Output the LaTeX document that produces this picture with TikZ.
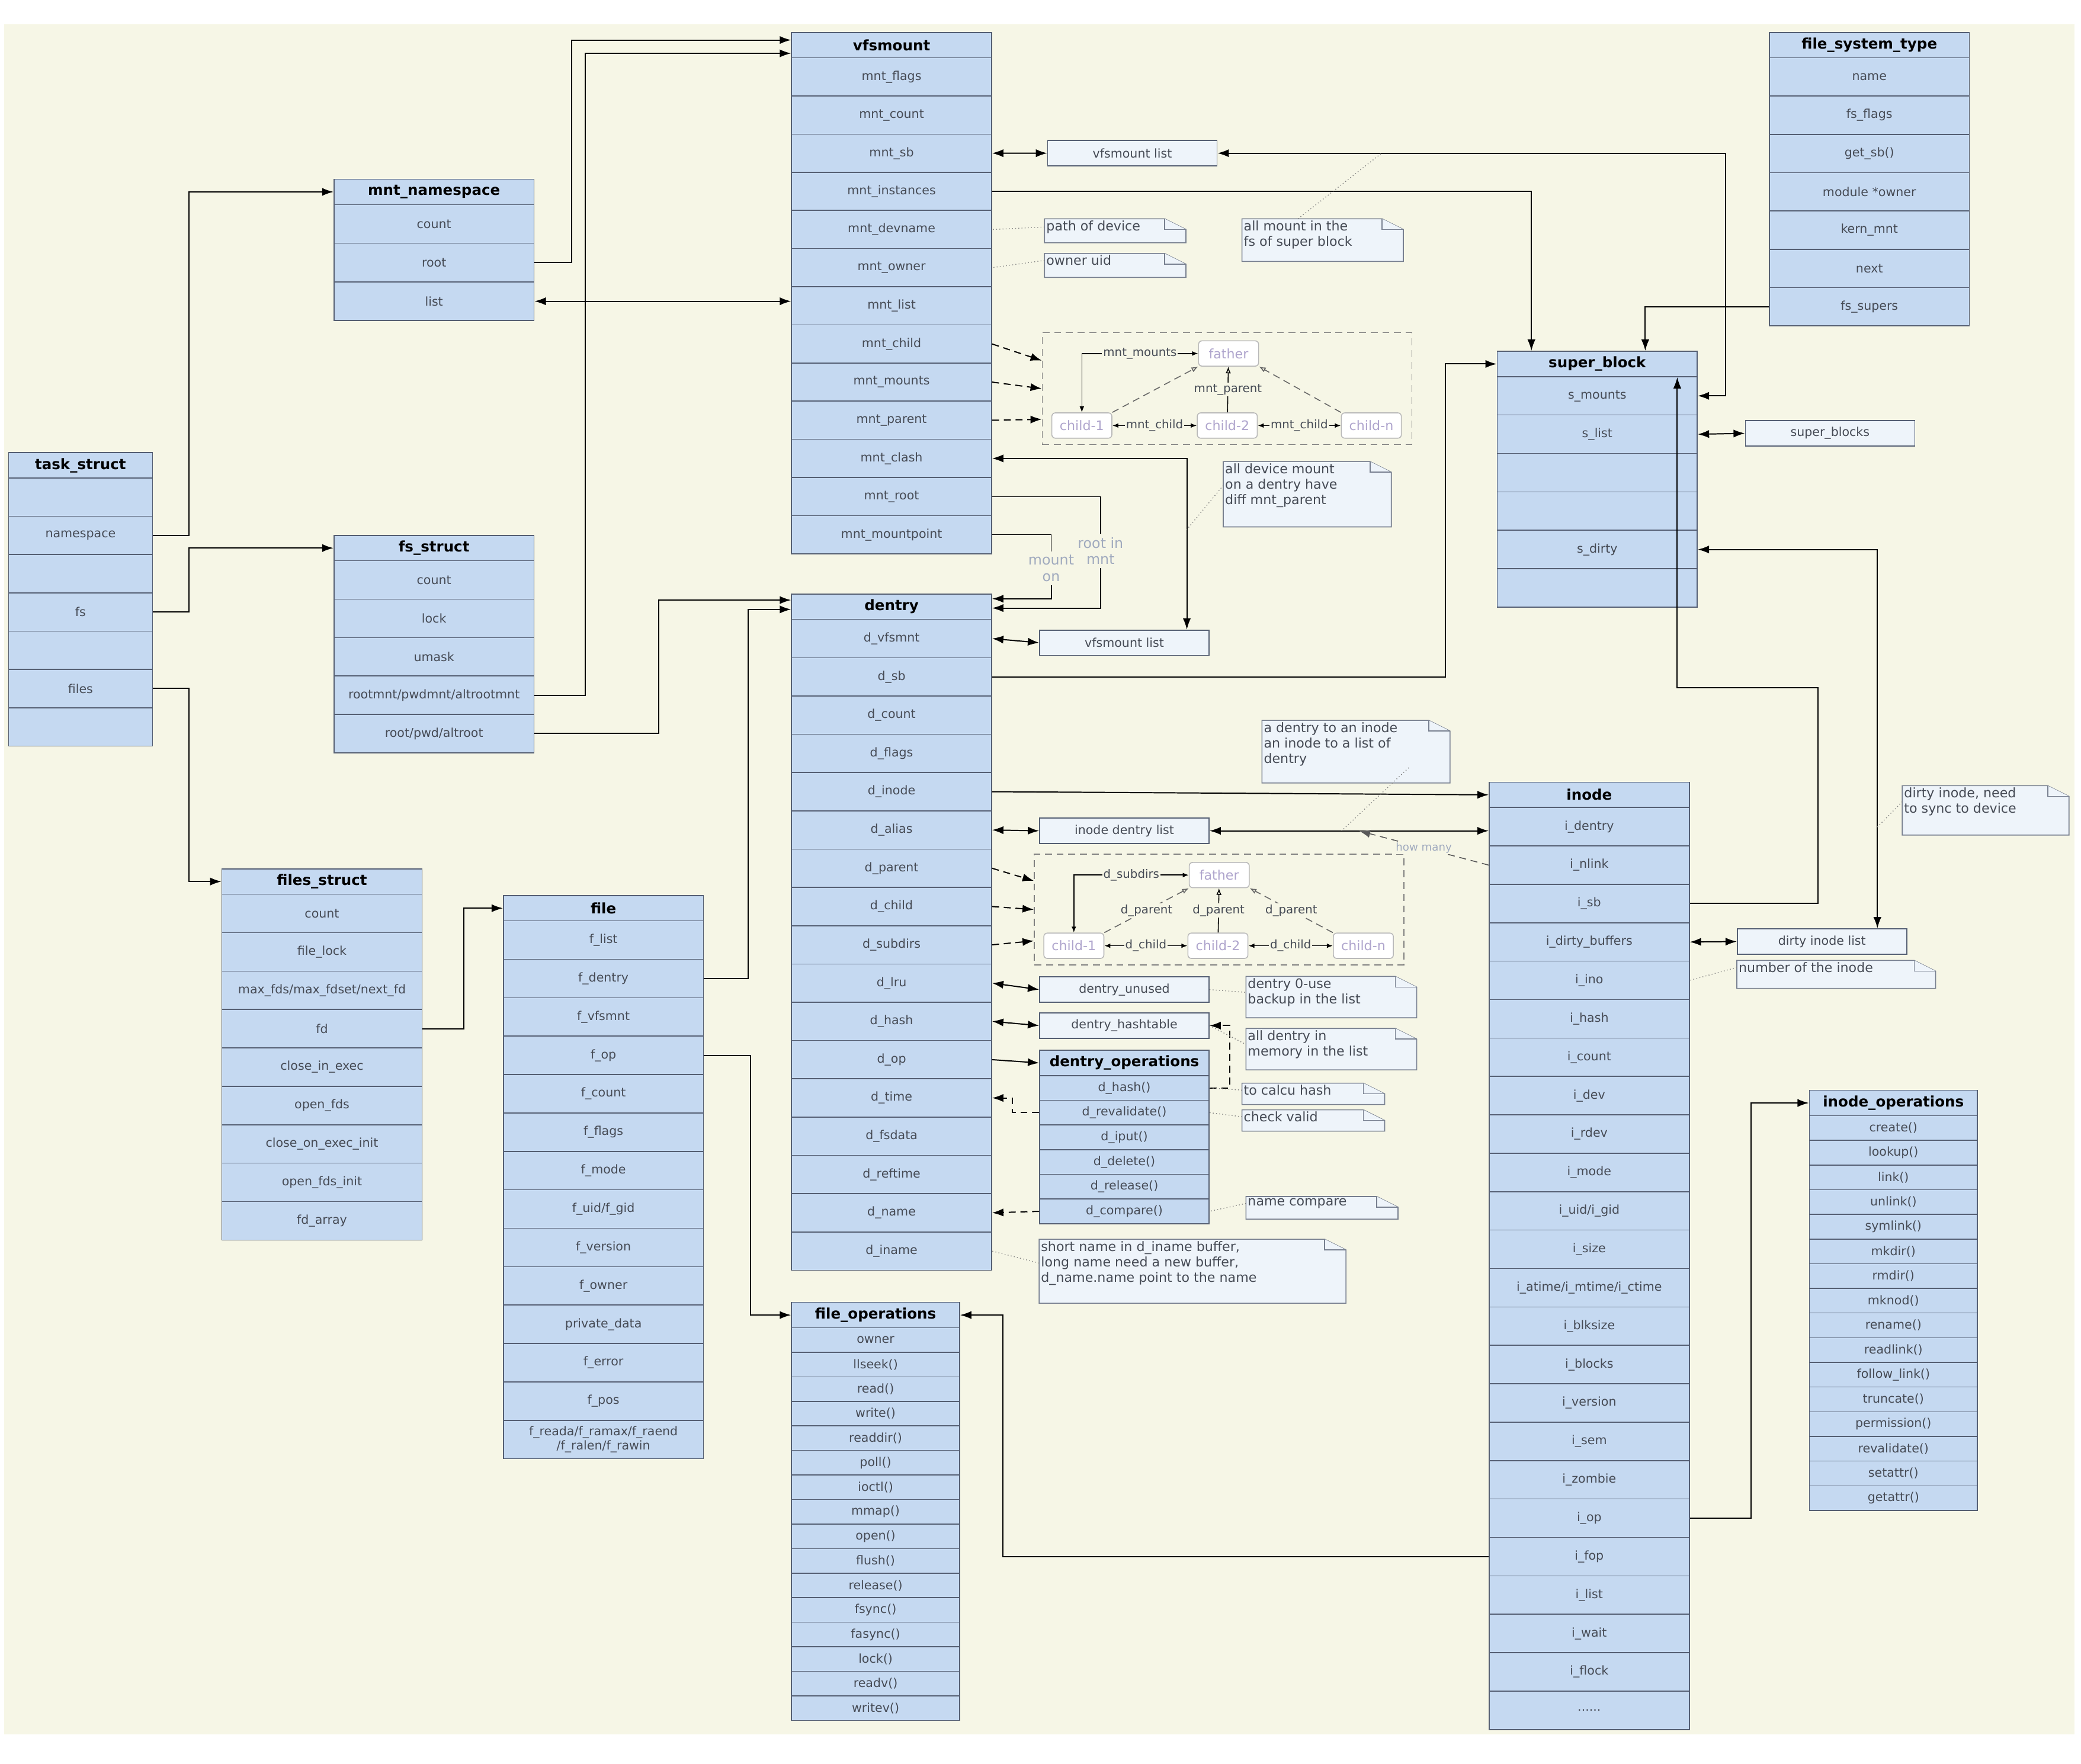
\documentclass[tikz,border=0pt]{standalone}
\usepackage{fontspec}
\setmainfont{DejaVu Sans}
\usetikzlibrary{arrows.meta}

\definecolor{bg}{RGB}{246,246,230}
\definecolor{rowblue}{RGB}{197,217,241}
\definecolor{tblline}{RGB}{85,95,115}
\definecolor{rowtext}{RGB}{70,75,85}
\definecolor{notefill}{RGB}{238,244,250}
\definecolor{lav}{RGB}{175,165,205}
\definecolor{softtext}{RGB}{160,170,190}

\tikzset{
	hdr/.style={draw=tblline, fill=rowblue, inner sep=0pt, anchor=north west,
		font=\fontsize{6.2}{7}\selectfont\bfseries, text=black},
	row/.style={draw=tblline, fill=rowblue, inner sep=0pt, anchor=north west,
		font=\fontsize{5.2}{6}\selectfont, text=rowtext, align=center},
	lst/.style={draw=tblline, fill=notefill, inner sep=0pt, anchor=north west,
		minimum width=25.4mm, minimum height=3.8mm,
		font=\fontsize{5.2}{6}\selectfont, text=rowtext},
	notebox/.style={draw=tblline!80, fill=notefill, line width=0.4pt},
	notetext/.style={inner sep=0.6pt, anchor=north west, align=left,
		font=\fontsize{5.6}{6.6}\selectfont, text=rowtext},
	tnode/.style={draw=gray!55, fill=white, rounded corners=1.5pt, inner sep=0pt,
		minimum width=9mm, minimum height=3.8mm, text=lav, font=\fontsize{5.6}{6}\selectfont},
	tbox/.style={draw=gray, densely dashed, inner sep=0pt, anchor=north west},
	lab/.style={fill=bg, inner sep=0.5pt, text=rowtext, font=\fontsize{5}{6}\selectfont},
	arr/.style={-{Latex[length=1.7mm,width=1.2mm]}, line width=0.5pt},
	dbl/.style={{Latex[length=1.7mm,width=1.2mm]}-{Latex[length=1.7mm,width=1.2mm]}, line width=0.5pt},
	darr/.style={arr, densely dashed},
	sdbl/.style={{Latex[length=0.9mm,width=0.7mm]}-{Latex[length=0.9mm,width=0.7mm]}, line width=0.4pt},
	par/.style={-{Latex[open,length=1mm,width=0.8mm]}, densely dashed, gray!80!black, line width=0.4pt},
	lead/.style={gray, densely dotted, line width=0.35pt},
}

% name, x, y, width, row height, title, rows
\newcommand\dstruct[7]{%
	\node[hdr, minimum width=#4*0.2mm, minimum height=3.8mm] (#1) at (#2,#3) {#6};
	\foreach \t [count=\i] in {#7}
		\node[row, minimum width=#4*0.2mm, minimum height=#5*0.2mm] (#1-\i) at (#2,{#3+19+(\i-1)*#5}) {\t};
}

% name, x, y, width, height, text
\newcommand\dnote[6]{%
	\draw[notebox] (#2,#3) -- ++(#4-16,0) -- ++(16,8) -- ++(0,#5-8) -- ++(-#4,0) -- cycle;
	\draw[notebox] (#2+#4-16,#3) -- ++(0,8) -- ++(16,0);
	\node[notetext] (#1) at (#2,#3) {#6};
}

\begin{document}
\begin{tikzpicture}[x=0.2mm,y=-0.2mm]

	% Background
	\useasboundingbox (0,0) rectangle (1560,1322);
	\fill[white] (0,0) rectangle (1560,1322);
	\fill[bg] (3,18) rectangle (1555,1300);

	% Structures
	\dstruct{vfs}{593}{24}{150}{28.6}{vfsmount}{mnt\_flags,mnt\_count,mnt\_sb,mnt\_instances,mnt\_devname,mnt\_owner,mnt\_list,mnt\_child,mnt\_mounts,mnt\_parent,mnt\_clash,mnt\_root,mnt\_mountpoint}
	\dstruct{mns}{250}{134}{150}{29}{mnt\_namespace}{count,root,list}
	\dstruct{task}{6}{339}{108}{28.7}{task\_struct}{{},namespace,{},fs,{},files,{}}
	\dstruct{fss}{250}{401}{150}{28.8}{fs\_struct}{count,lock,umask,rootmnt/pwdmnt/altrootmnt,root/pwd/altroot}
	\dstruct{fis}{166}{651}{150}{28.8}{files\_struct}{count,file\_lock,max\_fds/max\_fdset/next\_fd,fd,close\_in\_exec,open\_fds,close\_on\_exec\_init,open\_fds\_init,fd\_array}
	\dstruct{file}{377}{671}{150}{28.8}{file}{f\_list,f\_dentry,f\_vfsmnt,f\_op,f\_count,f\_flags,f\_mode,f\_uid/f\_gid,f\_version,f\_owner,private\_data,f\_error,f\_pos,{f\_reada/f\_ramax/f\_raend\\/f\_ralen/f\_rawin}}
	\dstruct{den}{593}{445}{150}{28.7}{dentry}{d\_vfsmnt,d\_sb,d\_count,d\_flags,d\_inode,d\_alias,d\_parent,d\_child,d\_subdirs,d\_lru,d\_hash,d\_op,d\_time,d\_fsdata,d\_reftime,d\_name,d\_iname}
	\dstruct{fop}{593}{976}{126}{18.4}{file\_operations}{owner,llseek(),read(),write(),readdir(),poll(),ioctl(),mmap(),open(),flush(),release(),fsync(),fasync(),lock(),readv(),writev()}
	\dstruct{dop}{779}{787}{127}{18.5}{dentry\_operations}{d\_hash(),d\_revalidate(),d\_iput(),d\_delete(),d\_release(),d\_compare()}
	\dstruct{sb}{1122}{263}{150}{28.8}{super\_block}{s\_mounts,s\_list,{},{},s\_dirty,{}}
	\dstruct{fst}{1326}{24}{150}{28.7}{file\_system\_type}{name,fs\_flags,get\_sb(),module *owner,kern\_mnt,next,fs\_supers}
	\dstruct{ino}{1116}{586}{150}{28.8}{inode}{i\_dentry,i\_nlink,i\_sb,i\_dirty\_buffers,i\_ino,i\_hash,i\_count,i\_dev,i\_rdev,i\_mode,i\_uid/i\_gid,i\_size,i\_atime/i\_mtime/i\_ctime,i\_blksize,i\_blocks,i\_version,i\_sem,i\_zombie,i\_op,i\_fop,i\_list,i\_wait,i\_flock,{.{}.{}.{}.{}.{}.}}
	\dstruct{iop}{1356}{817}{126}{18.5}{inode\_operations}{create(),lookup(),link(),unlink(),symlink(),mkdir(),rmdir(),mknod(),rename(),readlink(),follow\_link(),truncate(),permission(),revalidate(),setattr(),getattr()}

	% Lists
	\node[lst] (vl1) at (785,105) {vfsmount list};
	\node[lst] (vl2) at (779,472) {vfsmount list};
	\node[lst] (idl) at (779,613) {inode dentry list};
	\node[lst] (du) at (779,732) {dentry\_unused};
	\node[lst] (dh) at (779,759) {dentry\_hashtable};
	\node[lst] (sbs) at (1308,315) {super\_blocks};
	\node[lst] (dil) at (1302,696) {dirty inode list};

	% Notes
	\dnote{pd}{783}{164}{106}{18}{path of device}
	\dnote{ou}{783}{190}{106}{18}{owner uid}
	\dnote{am}{931}{164}{121}{32}{all mount in the\\fs of super block}
	\dnote{dm}{917}{346}{126}{49}{all device mount\\on a dentry have\\diff mnt\_parent}
	\dnote{di}{946}{540}{141}{47}{a dentry to an inode\\an inode to a list of\\dentry}
	\dnote{dz}{934}{732}{128}{31}{dentry 0-use\\backup in the list}
	\dnote{ad}{934}{771}{128}{31}{all dentry in\\memory in the list}
	\dnote{ch}{931}{812}{107}{16}{to calcu hash}
	\dnote{cv}{931}{832}{107}{16}{check valid}
	\dnote{nc}{934}{897}{114}{17}{name compare}
	\dnote{sn}{779}{929}{230}{48}{short name in d\_iname buffer,\\long name need a new buffer,\\d\_name.name point to the name}
	\dnote{dn}{1426}{589}{125}{37}{dirty inode, need\\to sync to device}
	\dnote{ni}{1302}{720}{149}{21}{number of the inode}

	% Mount tree
	\node[tbox, minimum width=55.4mm, minimum height=16.8mm] (mtree) at (781,249) {};
	\node[tnode] (mf) at (921,265) {father};
	\node[tnode] (m1) at (811,319) {child-1};
	\node[tnode] (m2) at (920,319) {child-2};
	\node[tnode] (mn) at (1028,319) {child-n};
	\draw[sdbl] (m1.north) |- node[lab, pos=0.75] {mnt\_mounts} (mf.west);
	\draw[sdbl] (m1) -- node[lab] {mnt\_child} (m2);
	\draw[sdbl] (m2) -- node[lab] {mnt\_child} (mn);
	\draw[par] (m1.north east) -- (mf.south west);
	\draw[par] (mn.north west) -- (mf.south east);
	\draw[-{Latex[open,length=1mm,width=0.8mm]}, line width=0.4pt] (m2) -- node[lab] {mnt\_parent} (mf);

	% Dentry tree
	\node[tbox, minimum width=55.4mm, minimum height=16.6mm] (dtree) at (775,640) {};
	\node[tnode] (df) at (914,656) {father};
	\node[tnode] (e1) at (805,709) {child-1};
	\node[tnode] (e2) at (913,709) {child-2};
	\node[tnode] (en) at (1022,709) {child-n};
	\draw[sdbl] (e1.north) |- node[lab, pos=0.75] {d\_subdirs} (df.west);
	\draw[sdbl] (e1) -- node[lab] {d\_child} (e2);
	\draw[sdbl] (e2) -- node[lab] {d\_child} (en);
	\draw[par] (e1.north east) -- node[lab] {d\_parent} (df.south west);
	\draw[par] (en.north west) -- node[lab] {d\_parent} (df.south east);
	\draw[-{Latex[open,length=1mm,width=0.8mm]}, line width=0.4pt] (e2) -- node[lab] {d\_parent} (df);

	% task_struct links
	\draw[arr] (task-2.east) -- ++(27,0) |- (mns.west);
	\draw[arr] (task-4.east) -- ++(27,0) |- (fss.west);
	\draw[arr] (task-6.east) -- ++(27,0) |- (fis.west);

	% namespace and fs links
	\draw[arr] (mns-2.east) -- ++(28,0) |- ([yshift=-1.2mm]vfs.north west);
	\draw[dbl] (mns-3.east) -- (mns-3.east -| vfs-7.west);
	\draw[arr] (fss-4.east) -- ++(38,0) |- ([yshift=-3.2mm]vfs.north west);
	\draw[arr] (fss-5.east) -- ++(93,0) |- ([yshift=1mm]den.west);
	\draw[arr] (file-2.east) -- ++(33,0) |- ([yshift=-0.4mm]den.west);
	\draw[arr] (fis-4.east) -- ++(31,0) |- (file.west);
	\draw[arr] (file-4.east) -- ++(35,0) |- (fop.west);

	% vfsmount links
	\draw[dbl] (vfs-3.east) -- (vl1.west);
	\draw[dbl] (vl1.east) -- ++(381,0) |- (sb-1.east);
	\draw[arr] (vfs-4.east) -| ([xshift=5.2mm]sb.north west);
	\draw[dbl] (vfs-11.east) -| ([xshift=-3.4mm]vl2.north east);
	\draw[darr] (vfs-8.east) -- ([yshift=4.2mm]mtree.west);
	\draw[darr] (vfs-9.east) -- (mtree.west);
	\draw[darr] (vfs-10.east) -- ([yshift=-4.6mm]mtree.west);
	\node[text=softtext, align=center, inner sep=0pt, font=\fontsize{6}{7}\selectfont] (rim) at (825,413) {root in\\mnt};
	\node[text=softtext, align=center, inner sep=0pt, font=\fontsize{6}{7}\selectfont] (mon) at (788,426) {mount\\on};
	\draw (vfs-12.east) -| ([yshift=0.5mm]rim.north);
	\draw[arr] ([yshift=-0.5mm]rim.south) |- ([yshift=-0.2mm]den.east);
	\draw (vfs-13.east) -| ([yshift=0.5mm]mon.north);
	\draw[arr] ([yshift=-0.5mm]mon.south) |- ([yshift=1.2mm]den.east);

	% dentry links
	\draw[dbl] (den-1.east) -- (vl2.west);
	\draw[arr] (den-2.east) -- ++(340,0) |- (sb.west);
	\draw[arr] (den-5.east) -- (ino.west);
	\draw[dbl] (den-6.east) -- (idl.west);
	\draw[dbl] (idl.east) -- (idl.east -| ino-1.west);
	\draw[darr] (den-7.east) -- ([yshift=4.3mm]dtree.west);
	\draw[darr] (den-8.east) -- (dtree.west);
	\draw[darr] (den-9.east) -- ([yshift=-4.7mm]dtree.west);
	\draw[dbl] (den-10.east) -- (du.west);
	\draw[dbl] (den-11.east) -- (dh.west);
	\draw[arr] (den-12.east) -- (dop.west);
	\draw[darr] (dop-1.east) -- ++(15,0) |- (dh.east);
	\draw[darr] (dop-2.west) -- ++(-20,0) |- (den-13.east);
	\draw[darr] (dop-6.west) -- (den-16.east);

	% super_block and inode links
	\draw[dbl] (sb-2.east) -- (sbs.west);
	\draw[dbl] (sb-5.east) -| ([xshift=8.3mm]dil.north);
	\draw[arr] (fst-7.west) -| ([xshift=7.2mm]sb.north);
	\draw[arr] (ino-3.east) -- ++(96,0) -- ++(0,-162) -| ([xshift=12mm]sb.south);
	\draw[dbl] (ino-4.east) -- (dil.west);
	\draw[arr] (ino-19.east) -- ++(46,0) |- (iop.west);
	\draw[arr] (ino-20.west) -- ++(-364,0) |- (fop.east);
	\draw[darr, gray!70!black, line width=0.4pt] (ino-2.west) -- node[lab, text=softtext, font=\fontsize{4.6}{5}\selectfont] {how many} ([xshift=22.4mm]idl.east);

	% Note leaders
	\draw[lead] (pd.west) -- (vfs-5.east);
	\draw[lead] (ou.west) -- (vfs-6.east);
	\draw[lead] (am.north) -- ([xshift=24.6mm]vl1.east);
	\draw[lead] (dm.west) -- ([xshift=-3.4mm,yshift=15mm]vl2.north east);
	\draw[lead] ([xshift=22mm]di.south west) -- ([xshift=19.8mm]idl.east);
	\draw[lead] (du.east) -- (dz.west);
	\draw[lead] (dh.east) -- (ad.west);
	\draw[lead] (ch.west) -- (dop-1.east);
	\draw[lead] (cv.west) -- (dop-2.east);
	\draw[lead] (nc.west) -- (dop-6.east);
	\draw[lead] (sn.west) -- (den-17.east);
	\draw[lead] (dn.west) -- ([xshift=8.3mm,yshift=15.2mm]dil.north);
	\draw[lead] (ni.west) -- (ino-5.east);

\end{tikzpicture}
\end{document}
